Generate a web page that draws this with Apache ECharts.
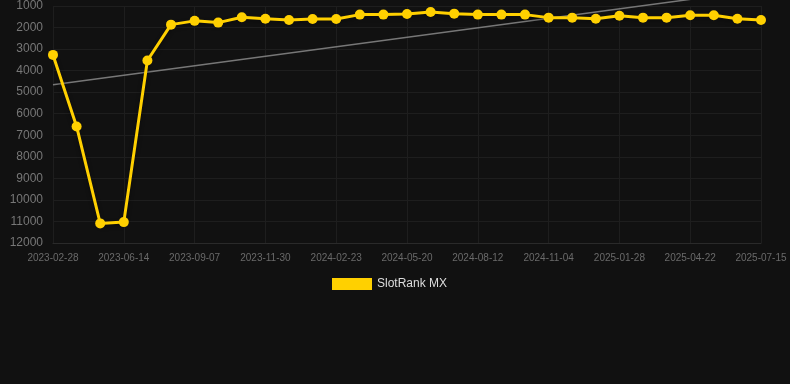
<!DOCTYPE html>
<html><head><meta charset="utf-8">
<script src="https://cdn.jsdelivr.net/npm/echarts@6/dist/echarts.min.js"></script>
<style>html,body{margin:0;padding:0;background:#111111;}#c{width:790px;height:384px;}</style>
</head><body><div id="c"></div>
<script>
const categories = ['2023-02-28','2023-04-05','2023-05-10','2023-06-14','2023-07-12','2023-08-09','2023-09-07','2023-10-05','2023-11-02','2023-11-30','2023-12-28','2024-01-25','2024-02-23','2024-03-22','2024-04-19','2024-05-20','2024-06-17','2024-07-15','2024-08-12','2024-09-09','2024-10-07','2024-11-04','2024-12-02','2024-12-30','2025-01-28','2025-02-25','2025-03-25','2025-04-22','2025-05-20','2025-06-17','2025-07-15'];
const rankValues = [3270,6590,11090,11030,3530,1865,1690,1770,1520,1590,1650,1600,1600,1400,1400,1370,1280,1355,1400,1400,1400,1540,1540,1590,1450,1540,1540,1430,1430,1590,1650];
const trendValues = [4660,null,null,null,null,null,null,null,null,null,null,null,null,null,null,null,null,null,null,null,null,null,null,null,null,null,null,null,null,null,250];
const seriesName = 'SlotRank MX';

const chart = echarts.init(document.getElementById('c'));
chart.setOption({
  backgroundColor: '#111111',
  animation: false,
  grid: {left: 53, right: 29, top: 6, bottom: 141},
  legend: {
    data: [{name: seriesName, icon: 'rect'}],
    top: 278, left: 332, padding: 0,
    itemWidth: 40, itemHeight: 12,
    textStyle: {color: '#dddddd', fontSize: 12, fontFamily: 'Liberation Sans, Arial, sans-serif'}
  },
  xAxis: {
    type: 'category', data: categories, boundaryGap: false,
    axisLine: {show: true, lineStyle: {color: '#2a2a2a'}},
    axisTick: {show: false},
    axisLabel: {interval: 2, color: '#6a6a6a', fontSize: 10, margin: 10, fontFamily: 'Liberation Sans, Arial, sans-serif'},
    splitLine: {show: true, interval: 2, lineStyle: {color: '#1e1e1e'}}
  },
  yAxis: {
    type: 'value', inverse: true, min: 1000, max: 12000, interval: 1000,
    axisLine: {show: false}, axisTick: {show: false},
    axisLabel: {color: '#777777', fontSize: 12, margin: 10, fontFamily: 'Liberation Sans, Arial, sans-serif', formatter: v => String(v)},
    splitLine: {show: true, lineStyle: {color: '#1e1e1e'}}
  },
  series: [
    {
      name: seriesName, type: 'line', data: rankValues,
      symbol: 'circle', symbolSize: 10, z: 3,
      itemStyle: {color: '#ffd000'},
      lineStyle: {color: '#ffd000', width: 3, shadowColor: 'rgba(0,0,0,0.4)', shadowBlur: 4, shadowOffsetY: 2}
    },
    {
      name: 'trend', type: 'line', data: trendValues, connectNulls: true,
      symbol: 'none', z: 2, clip: false,
      lineStyle: {color: '#777777', width: 1.5}
    }
  ]
});
</script></body></html>
